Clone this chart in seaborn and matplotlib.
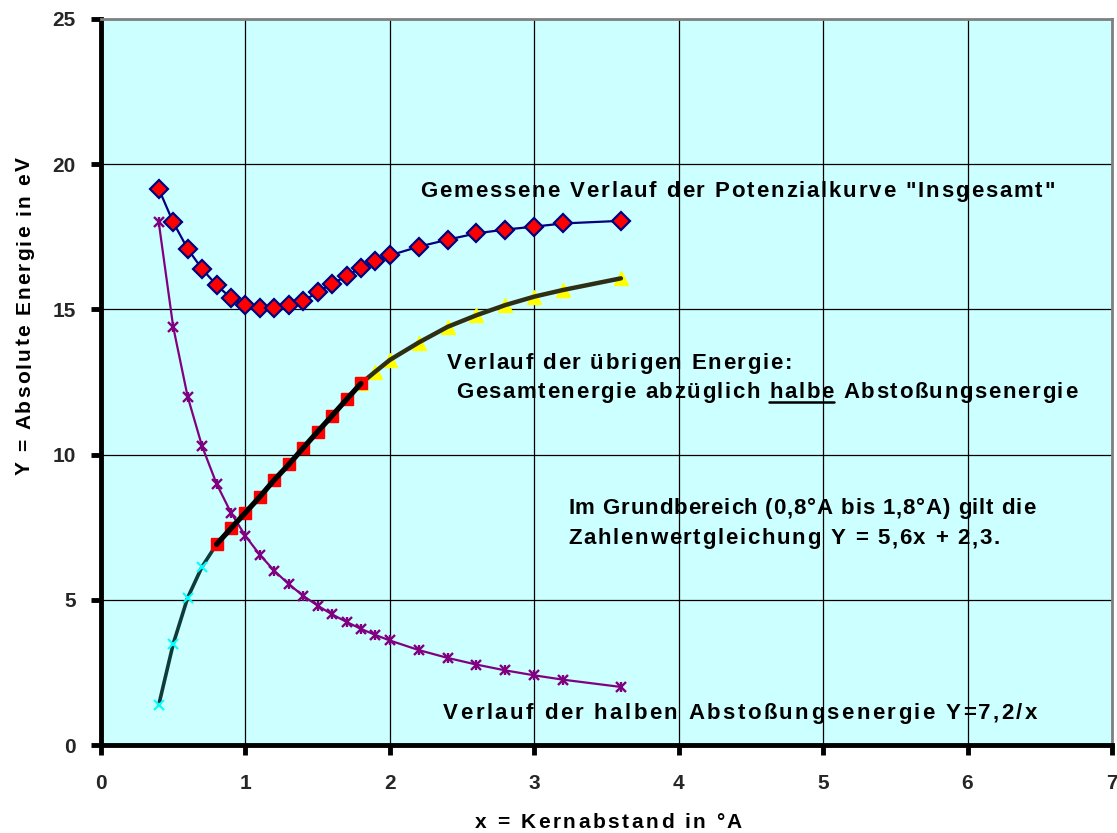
import matplotlib
matplotlib.use("Agg")
import matplotlib.pyplot as plt
import seaborn as sns
from matplotlib.lines import Line2D
from matplotlib.transforms import IdentityTransform
from matplotlib.font_manager import FontProperties

# ---- data ----
x_total = [0.4, 0.5, 0.6, 0.7, 0.8, 0.9, 1.0, 1.1, 1.2, 1.3, 1.4, 1.5, 1.6, 1.7, 1.8,
           1.9, 2.0, 2.2, 2.4, 2.6, 2.8, 3.0, 3.2, 3.6]
y_total = [19.15, 18.0, 17.09, 16.39, 15.84, 15.39, 15.14, 15.05, 15.06, 15.15, 15.29,
           15.59, 15.89, 16.14, 16.44, 16.65, 16.86, 17.16, 17.4, 17.62, 17.75, 17.85,
           17.96, 18.05]
y_half = [18.0, 14.4, 12.0, 10.29, 9.0, 8.0, 7.2, 6.55, 6.0, 5.54, 5.14, 4.8, 4.5, 4.24,
          4.0, 3.79, 3.6, 3.27, 3.0, 2.77, 2.57, 2.4, 2.25, 2.0]
x_low = [0.4, 0.5, 0.6, 0.7, 0.8]
y_low = [1.38, 3.48, 5.07, 6.14, 6.91]
x_mid = [0.8, 0.9, 1.0, 1.1, 1.2, 1.3, 1.4, 1.5, 1.6, 1.7, 1.8]
y_mid = [6.91, 7.46, 8.0, 8.55, 9.13, 9.66, 10.23, 10.79, 11.34, 11.9, 12.45]
x_high = [1.8, 1.9, 2.0, 2.2, 2.4, 2.6, 2.8, 3.0, 3.2, 3.6]
y_high = [12.45, 12.86, 13.26, 13.86, 14.4, 14.8, 15.15, 15.44, 15.67, 16.07]

x_ticks = [0, 1, 2, 3, 4, 5, 6, 7]
y_ticks = [0, 5, 10, 15, 20, 25]

title_total = 'Gemessene Verlauf der Potenzialkurve "Insgesamt"'
title_rest1 = 'Verlauf der übrigen Energie:'
title_rest2a = ' Gesamtenergie abzüglich '
title_rest2b = 'halbe'
title_rest2c = ' Abstoßungsenergie'
title_lin1 = 'Im Grundbereich (0,8°A bis 1,8°A) gilt die'
title_lin2 = 'Zahlenwertgleichung Y = 5,6x + 2,3.'
title_half = 'Verlauf der halben Abstoßungsenergie Y=7,2/x'
x_label = 'x = Kernabstand in °A'
y_label = 'Y = Absolute Energie in eV'

# ---- style ----
sns.set_style("white")
plt.rcParams['font.family'] = ['Liberation Sans', 'DejaVu Sans']
plt.rcParams['font.weight'] = 'bold'

fig = plt.figure(figsize=(11.17, 8.33), dpi=100)
ax = fig.add_axes([0.0904, 0.1056, 0.9051, 0.8716])
ax.set_facecolor('#CCFFFF')

ax.set_xlim(0, 7)
ax.set_ylim(0, 25)
ax.set_xticks(x_ticks)
ax.set_yticks(y_ticks)
ax.grid(True, color='black', linewidth=0.9, zorder=0)
ax.set_axisbelow(True)

# half repulsion energy (purple asterisks)
sns.lineplot(x=x_total, y=y_half, ax=ax, color='#800080', linewidth=1.6, marker='x',
             markersize=6.5, markeredgewidth=1.7, markeredgecolor='#800080', zorder=3)
ax.plot(x_total, y_half, linestyle='none', marker='|', markersize=7.5, markeredgewidth=1.7,
        color='#800080', zorder=3)

# remaining energy - lower part (cyan crosses, dark teal line)
sns.lineplot(x=x_low, y=y_low, ax=ax, color='#0F3A3A', linewidth=2.6, marker='x',
             markersize=7, markeredgewidth=1.5, markeredgecolor='#00FFFF', zorder=4)

# remaining energy - high part (yellow triangles, dark line)
ax.plot(x_high, y_high, linestyle='none', marker='^', markersize=10, color='#FFFF00',
        markeredgecolor='#FFFF00', zorder=4)
sns.lineplot(x=x_high, y=y_high, ax=ax, color='#2E2E14', linewidth=3.2, zorder=5)

# remaining energy - linear part (red squares, thick black line)
ax.plot(x_mid, y_mid, linestyle='none', marker='s', markersize=8.5, color='#FF0000',
        markeredgecolor='#FF0000', zorder=5)
sns.lineplot(x=x_mid, y=y_mid, ax=ax, color='black', linewidth=3.8, zorder=6)

# total measured energy (red diamonds)
sns.lineplot(x=x_total, y=y_total, ax=ax, color='#000080', linewidth=1.6, marker='D',
             markersize=9.5, markerfacecolor='#FF0000', markeredgecolor='#000080',
             markeredgewidth=1.6, zorder=7)

# spines / ticks
for s in ['left', 'bottom']:
    ax.spines[s].set_color('black')
    ax.spines[s].set_linewidth(3.5)
for s in ['top', 'right']:
    ax.spines[s].set_color('#808080')
    ax.spines[s].set_linewidth(2)
ax.tick_params(axis='both', which='major', direction='out', length=7, width=3.5,
               color='black', labelsize=15, bottom=True, left=True, top=False, right=False)
ax.tick_params(axis='x', pad=14)
ax.tick_params(axis='y', pad=11)
for lab in ax.get_xticklabels() + ax.get_yticklabels():
    lab.set_fontweight('bold')
ax.set_xlabel('')
ax.set_ylabel('')

# ---- letter-spaced text (Excel-like tracking) ----
fig.canvas.draw()
renderer = fig.canvas.get_renderer()
H = fig.get_size_inches()[1] * fig.dpi


def char_widths(s, fp):
    wxx = renderer.get_text_width_height_descent('xx', fp, ismath=False)[0]
    wsp = renderer.get_text_width_height_descent('x x', fp, ismath=False)[0] - wxx
    out = []
    for ch in s:
        if ch == ' ':
            out.append(wsp)
        else:
            out.append(renderer.get_text_width_height_descent(ch, fp, ismath=False)[0])
    return out


def tracked(s, x0, y_top_px, length, size=16, vertical=False):
    """Draw s with its first glyph at pixel x0 / baseline at y_top_px (from the top),
    spread to span `length` pixels. Returns list of (artist, x, y, width)."""
    fp = FontProperties(family=['Liberation Sans', 'DejaVu Sans'], weight='bold', size=size)
    ws = char_widths(s, fp)
    n = len(s)
    track = max((length - sum(ws)) / max(n - 1, 1), 0.0)
    arts = []
    pos = 0.0
    for ch, w in zip(s, ws):
        if vertical:
            px, py = x0, (H - y_top_px) + pos
            t = fig.text(px, py, ch, transform=IdentityTransform(), fontproperties=fp,
                         rotation=90, rotation_mode='anchor', ha='left', va='baseline',
                         color='black', zorder=10)
        else:
            px, py = x0 + pos, H - y_top_px
            t = fig.text(px, py, ch, transform=IdentityTransform(), fontproperties=fp,
                         ha='left', va='baseline', color='black', zorder=10)
        arts.append((t, px, py, w))
        pos += w + track
    return arts


tracked(title_total, 420, 197, 635)
tracked(title_rest1, 447, 369, 345)
full2 = title_rest2a + title_rest2b + title_rest2c
arts2 = tracked(full2, 448, 398, 629)
i0 = len(title_rest2a)
i1 = i0 + len(title_rest2b)
u_start = arts2[i0][1]
u_end = arts2[i1 - 1][1] + arts2[i1 - 1][3]
u_y = arts2[i0][2] - 4
fig.add_artist(Line2D([u_start, u_end], [u_y, u_y], color='black', linewidth=1.8,
                      transform=IdentityTransform()))
tracked(title_lin1, 568, 514, 467)
tracked(title_lin2, 568, 544, 432)
tracked(title_half, 443, 719, 594)
tracked(x_label, 475, 828, 267, size=15)
tracked(y_label, 30, 475, 318, size=15, vertical=True)

fig.savefig('out.png', dpi=100)
